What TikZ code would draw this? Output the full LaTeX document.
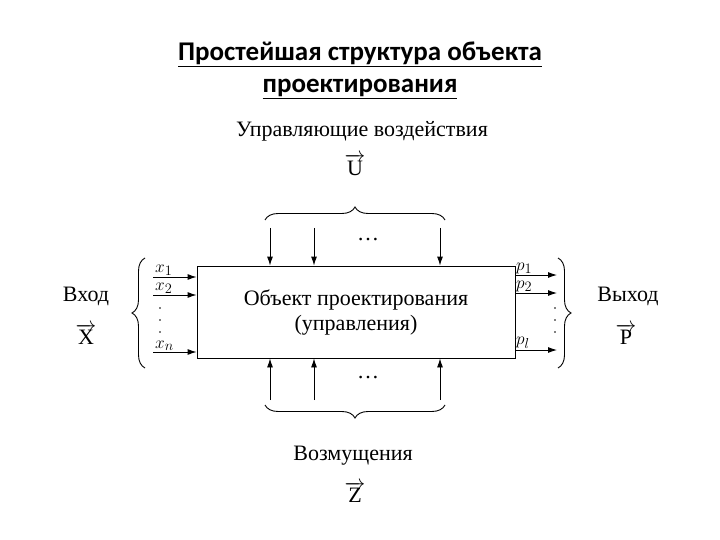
\documentclass[tikz,border=0pt]{standalone}
\usepackage{fontspec}
\setmainfont{Liberation Serif}
\newfontfamily\titlefont{Carlito}
\usetikzlibrary{decorations.pathreplacing,arrows.meta}
\begin{document}
\begin{tikzpicture}[x=1pt,y=-1pt,
  arr/.style={-{Latex[length=9pt,width=6pt]},line width=0.9pt},
  brc/.style={decorate,decoration={brace,amplitude=13pt,raise=0pt},line width=0.9pt},
  lbl/.style={font=\fontsize{22}{25}\selectfont},
  sub/.style={font=\fontsize{19}{21}\selectfont,anchor=south west,inner sep=1pt},
  dot/.style={circle,fill,inner sep=0pt,minimum size=1.8pt}]
\useasboundingbox (0,0) rectangle (720,540);
\node[font=\titlefont\bfseries\fontsize{27}{30}\selectfont,align=center] (title) at (360,70)
  {\underline{Простейшая структура объекта}\\[2pt]\underline{проектирования}};
\node[draw,line width=0.9pt,minimum width=318pt,minimum height=92pt,lbl,align=center] (box) at (356,312)
  {Объект проектирования\\(управления)};
% inputs
\foreach \y/\t [count=\i] in {277/{$x_1$},295/{$x_2$},352/{$x_n$}}{
  \coordinate (in\i) at (153,\y);
  \draw[arr] (in\i) -- (in\i -| box.west);
  \node[sub] (inl\i) at (154,\y) {\t};
}
\foreach \y [count=\i] in {308,320,332}{\node[dot] (ld\i) at (160,\y) {};}
% outputs
\foreach \y/\t [count=\i] in {275/{$p_1$},293/{$p_2$},350/{$p_l$}}{
  \coordinate (out\i) at (557,\y);
  \draw[arr] (out\i -| box.east) -- (out\i);
  \node[sub] (outl\i) at (515,\y) {\t};
}
\foreach \y [count=\i] in {308,320,332}{\node[dot] (rd\i) at (555,\y) {};}
% top / bottom
\foreach \x [count=\i] in {270,314,440}{
  \coordinate (t\i) at (\x,228);
  \draw[arr] (t\i) -- (t\i |- box.north);
  \coordinate (b\i) at (\x,400);
  \draw[arr] (b\i) -- (b\i |- box.south);
}
\node[lbl] (tdots) at (368,240) {\dots};
\node[lbl] (bdots) at (368,378) {\dots};
% braces
\draw[brc] (265,220) -- (445,220);
\draw[brc] (445,405) -- (265,405);
\draw[brc] (145,368) -- (145,258);
\draw[brc] (558,258) -- (558,368);
% labels
\node[lbl] (ctl) at (362,131) {Управляющие воздействия};
\node[lbl] (U) at (355,165) {$\overrightarrow{\mathrm{U}}$};
\node[lbl] (dist) at (353,456) {Возмущения};
\node[lbl] (Z) at (355,492) {$\overrightarrow{\mathrm{Z}}$};
\node[lbl] (inp) at (86,296) {Вход};
\node[lbl] (X) at (86,334) {$\overrightarrow{\mathrm{X}}$};
\node[lbl] (outp) at (628,296) {Выход};
\node[lbl] (P) at (626,334) {$\overrightarrow{\mathrm{P}}$};
\end{tikzpicture}
\end{document}
